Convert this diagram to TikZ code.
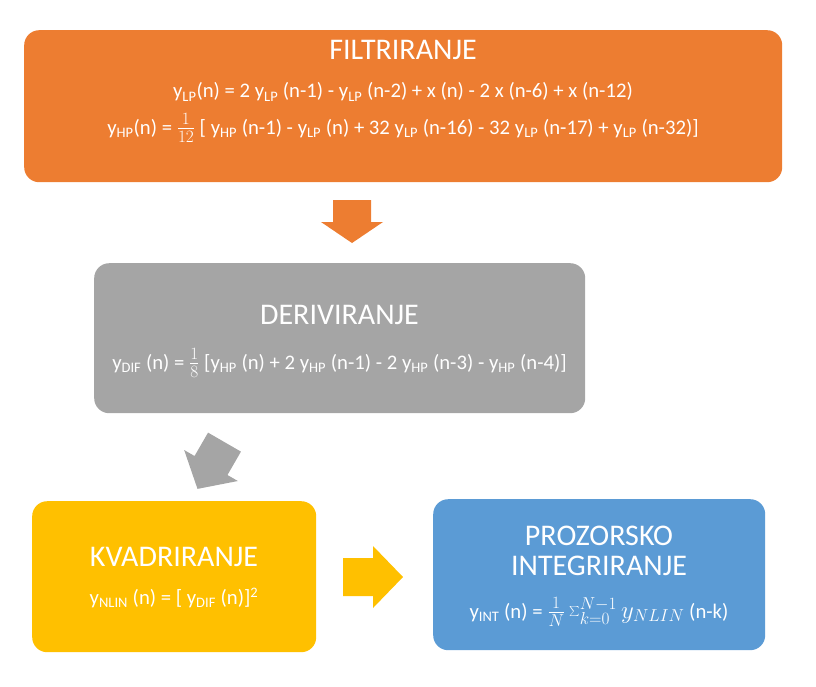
\documentclass[tikz,border=0pt]{standalone}
\usepackage{fontspec}
\setmainfont{Carlito}
\definecolor{filtorange}{HTML}{ED7D31}
\definecolor{derivgray}{HTML}{A5A5A5}
\definecolor{kvadyellow}{HTML}{FFC000}
\definecolor{integblue}{HTML}{5B9BD5}
\newcommand{\ysub}[1]{y\textsubscript{#1}}
\begin{document}
\begin{tikzpicture}[
    x=1pt,y=-1pt,
    stage/.style={fill=#1, rounded corners=15pt, inner sep=0pt, anchor=north west},
    title/.style={text=white, font=\fontsize{30}{32}\selectfont, align=center},
    formula/.style={text=white, font=\fontsize{20.7}{23}\selectfont},
    % block arrow pointing along +x: total length #1, head length #2
    pics/blockarrow/.style 2 args={code={
        \fill[pic actions] (-#1/2,-19) -- (#1/2-#2,-19) -- (#1/2-#2,-31) -- (#1/2,0)
            -- (#1/2-#2,31) -- (#1/2-#2,19) -- (-#1/2,19) -- cycle;}}
]
\useasboundingbox (0,0) rectangle (816,686);
% Stages
\node[stage=filtorange, minimum width=758pt, minimum height=152pt] (filt) at (24,30) {};
\node[stage=derivgray, minimum width=491pt, minimum height=150pt] (deriv) at (94,263) {};
\node[stage=kvadyellow, minimum width=284pt, minimum height=151pt] (kvad) at (32,501) {};
\node[stage=integblue, minimum width=332pt, minimum height=151pt] (integ) at (433,499) {};

% Texts
\node[title] (filttitle) at (403,50) {FILTRIRANJE};
\node[formula] (filteqa) at (403,92) {\ysub{LP}(n) = 2 \ysub{LP} (n-1) - \ysub{LP} (n-2) + x (n) - 2 x (n-6) + x (n-12)};
\node[formula] (filteqb) at (403,128) {\ysub{HP}(n) = {\fontsize{24}{26}\selectfont$\frac{1}{12}$} [ \ysub{HP} (n-1) - \ysub{LP} (n) + 32 \ysub{LP} (n-16) - 32 \ysub{LP} (n-17) + \ysub{LP} (n-32)]};
\node[title] (derivtitle) at (339.5,315) {DERIVIRANJE};
\node[formula] (deriveq) at (339.5,363) {\ysub{DIF} (n) = {\fontsize{24}{26}\selectfont$\frac{1}{8}$} [\ysub{HP} (n) + 2 \ysub{HP} (n-1) - 2 \ysub{HP} (n-3) - \ysub{HP} (n-4)]};
\node[title] (kvadtitle) at (174,557) {KVADRIRANJE};
\node[formula] (kvadeq) at (174,598) {\ysub{NLIN} (n) = [ \ysub{DIF} (n)]\textsuperscript{2}};
\node[title] (integtitle) at (599,551) {PROZORSKO\\[-2pt]INTEGRIRANJE};
\node[formula] (integeq) at (599,612) {\ysub{INT} (n) = {\fontsize{24}{26}\selectfont$\frac{1}{N}\sum_{k=0}^{N-1} y_{NLIN}$} (n-k)};

% Block arrows between the stages
\pic[fill=filtorange, rotate=-90] (filtarrow) at (352,221.5) {blockarrow={43}{21}};
\pic[fill=derivgray, rotate=240] (derivarrow) at (211,465.5) {blockarrow={54}{27}};
\pic[fill=kvadyellow] (kvadarrow) at (373,577) {blockarrow={60}{30}};
\end{tikzpicture}
\end{document}
